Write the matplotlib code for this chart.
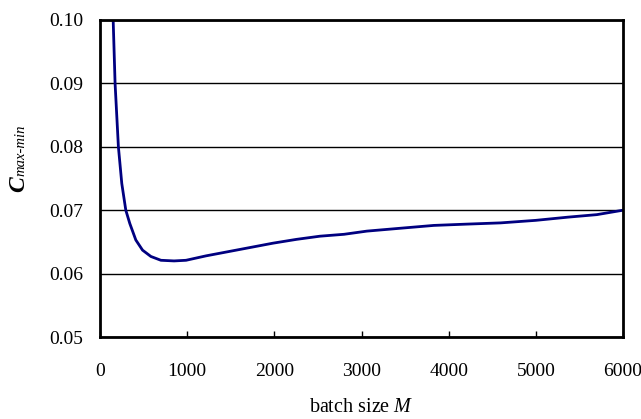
import matplotlib
matplotlib.use("Agg")
import matplotlib.pyplot as plt

# batch size M and C_max-min
batch_size = [150, 173, 211, 250, 296, 342, 411, 488, 584, 699, 850, 987, 1217,
              1601, 1985, 2254, 2523, 2800, 3061, 3400, 3829, 4200, 4597, 5000,
              5365, 5700, 6000]
c_maxmin = [0.1005, 0.090, 0.080, 0.0742, 0.070, 0.0679, 0.0653, 0.0637, 0.0627,
            0.0621, 0.0620, 0.0621, 0.0628, 0.0638, 0.0648, 0.0654, 0.0659, 0.0662,
            0.0667, 0.0671, 0.0676, 0.0678, 0.0680, 0.0684, 0.0689, 0.0693, 0.0700]

x_ticks = [0, 1000, 2000, 3000, 4000, 5000, 6000]
y_ticks = [0.05, 0.06, 0.07, 0.08, 0.09, 0.10]

plt.rcParams['font.family'] = ['Liberation Serif', 'DejaVu Serif']
plt.rcParams['mathtext.fontset'] = 'custom'
plt.rcParams['mathtext.it'] = 'Liberation Serif:italic'
plt.rcParams['mathtext.rm'] = 'Liberation Serif'

fig = plt.figure(figsize=(6.41, 4.19), dpi=100)
ax = fig.add_axes([100 / 641, 1 - 337 / 419, 523 / 641, 317 / 419])

ax.plot(batch_size, c_maxmin, color='#000080', lw=2.0)

ax.set_xlim(0, 6000)
ax.set_ylim(0.05, 0.10)
ax.set_xticks(x_ticks)
ax.set_yticks(y_ticks)
ax.set_yticklabels([f"{v:.2f}" for v in y_ticks])
ax.yaxis.grid(True, color='black', lw=1.0)
ax.set_axisbelow(True)

ax.tick_params(axis='x', direction='in', length=4, width=1, labelsize=14, pad=19)
ax.tick_params(axis='y', length=0, labelsize=14, pad=12)
for s in ax.spines.values():
    s.set_linewidth(2)

ax.set_xlabel('batch size $\\it{M}$', fontsize=14.5, labelpad=13)

# y label: bold italic C followed by italic "max-min"
fig.text(24 / 641, 1 - 192 / 419, 'C', rotation=90, rotation_mode='anchor',
         fontsize=17, fontweight='bold', fontstyle='italic', ha='left', va='baseline')
fig.text(24 / 641, 1 - 176 / 419, 'max-min', rotation=90, rotation_mode='anchor',
         fontsize=10.5, fontstyle='italic', ha='left', va='baseline')

fig.savefig('out.png', dpi=100)
